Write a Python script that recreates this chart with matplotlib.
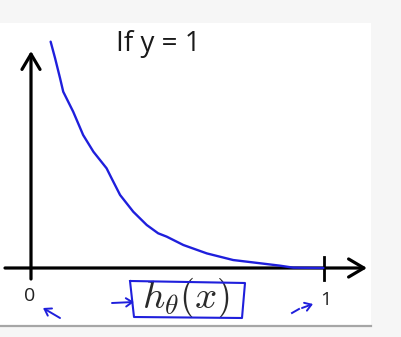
import matplotlib.pyplot as plt
from matplotlib.patches import Rectangle

# curva de coste -log(h) (h en [0,1])
h_vals = [0.067, 0.082, 0.099, 0.110, 0.144, 0.178, 0.213, 0.258, 0.275, 0.304, 0.349,
          0.395, 0.434, 0.463, 0.520, 0.600, 0.690, 0.782, 0.850, 0.895, 0.998]
cost_vals = [2.727, 2.530, 2.289, 2.124, 1.883, 1.602, 1.401, 1.201, 1.081, 0.880, 0.678,
             0.518, 0.418, 0.378, 0.277, 0.176, 0.096, 0.057, 0.028, 0.004, 0.0]

titulo = "If y = 1"
tick_labels = ["0", "1"]
etiqueta_x = r"$h_\theta(x)$"

AZUL = "#1f1fdc"
NEGRO = "#000000"

# escala: 293 px por unidad de h, 83 px por unidad de coste
PX_X = 293.0
PX_Y = 83.0


def px(x, y):
    # pixel de la imagen -> coordenadas de datos
    return ((x - 31) / PX_X, (268 - y) / PX_Y)


plt.rcParams["mathtext.fontset"] = "cm"

fig = plt.figure(figsize=(4.02, 3.37), dpi=100)
fig.patch.set_facecolor("#f6f6f6")
ax = fig.add_axes([0, 0, 1, 1])
ax.set_xlim(px(0, 0)[0], px(402, 0)[0])
ax.set_ylim(px(0, 337)[1], px(0, 0)[1])
ax.axis("off")

# panel blanco de la diapositiva
ax.add_patch(Rectangle((0, 1 - 325 / 337), 371 / 402, 302 / 337,
                       transform=ax.transAxes, facecolor="white", edgecolor="none", zorder=0))
ax.plot([0, 371 / 402], [1 - 326 / 337] * 2, transform=ax.transAxes,
        color="#a6a6a6", lw=1.6, zorder=1)

# ejes con flechas
arrow = dict(arrowstyle="->,head_length=1.1,head_width=0.65", color=NEGRO, lw=2.3,
             shrinkA=0, shrinkB=0)
ax.annotate("", xy=px(31, 51), xytext=px(31, 279), arrowprops=arrow, zorder=3)
ax.annotate("", xy=px(367, 268), xytext=px(5, 268), arrowprops=arrow, zorder=3)
# marca en h = 1
ax.plot(*zip(px(324, 257), px(324, 280)), color=NEGRO, lw=2.0, zorder=3)

# curva
ax.plot(h_vals, cost_vals, color=AZUL, lw=1.7, zorder=4, solid_capstyle="round",
        solid_joinstyle="round")

# textos
ax.text(*px(158, 44), titulo, fontsize=20, family="Open Sans", color="#1a1a1a",
        ha="center", va="center")
ax.text(*px(30, 296), tick_labels[0], fontsize=14, family="Open Sans", color="#222222",
        ha="center", va="center")
ax.text(*px(326, 300), tick_labels[1], fontsize=14, family="Open Sans", color="#222222",
        ha="center", va="center")
ax.text(*px(186, 298), etiqueta_x, fontsize=28, color="#2a2a2a", ha="center", va="center")

# anotaciones a mano en azul
caja = [(131, 281), (245, 283), (242, 318), (134, 317), (130, 281)]
ax.plot(*zip(*[px(*p) for p in caja]), color=AZUL, lw=1.5, zorder=5)
flecha_caja = dict(arrowstyle="->,head_length=0.45,head_width=0.3", color=AZUL, lw=1.4,
                   shrinkA=0, shrinkB=0)
ax.annotate("", xy=px(134, 302), xytext=px(112, 303), arrowprops=flecha_caja)
ax.annotate("", xy=px(43, 308), xytext=px(60, 318), arrowprops=flecha_caja)
ax.plot(*zip(px(292, 313), px(299, 309)), color=AZUL, lw=1.4)
ax.annotate("", xy=px(313, 304), xytext=px(302, 308), arrowprops=flecha_caja)

fig.savefig("out.png", dpi=100, facecolor=fig.get_facecolor())
